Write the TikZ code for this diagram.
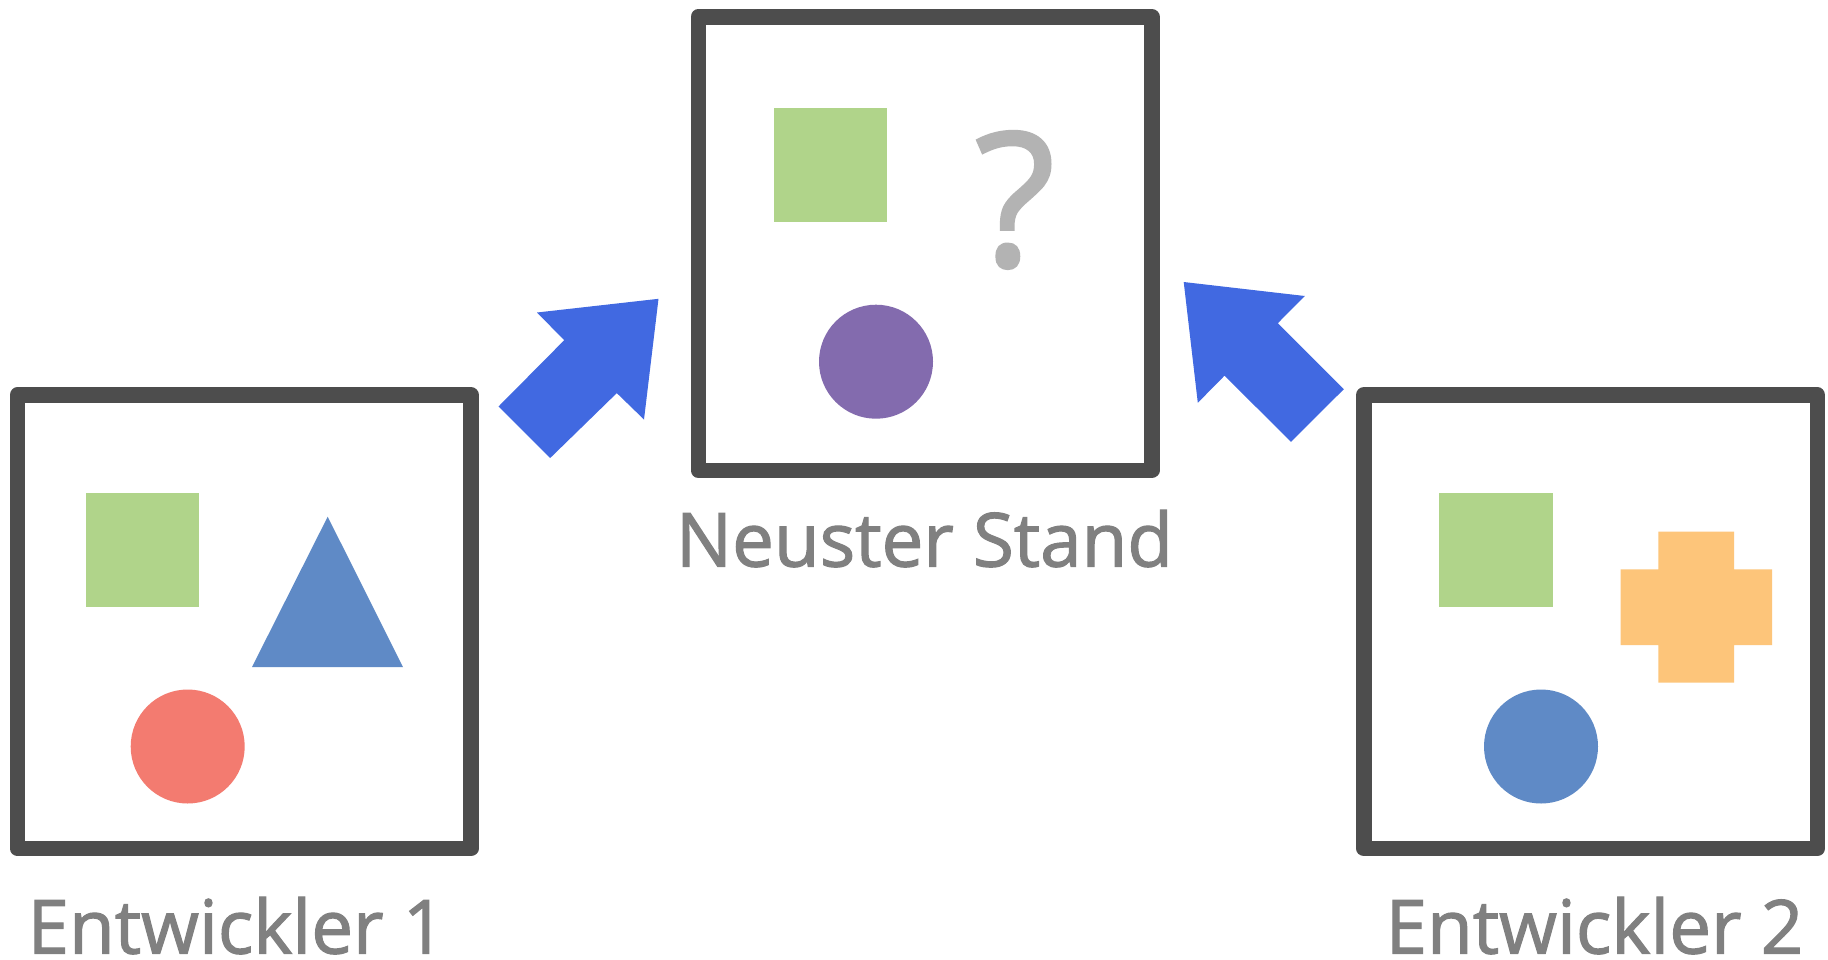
\documentclass[tikz,border=0pt]{standalone}
\usepackage{fontspec}
\setmainfont{Open Sans}
\newfontfamily\lblfont{Open Sans}[FakeBold=1.6]
\definecolor{boxgray}{HTML}{4D4D4D}
\definecolor{labelgray}{HTML}{808080}
\definecolor{qgray}{HTML}{B3B3B3}
\definecolor{sqgreen}{HTML}{B0D48A}
\definecolor{triblue}{HTML}{5F8AC6}
\definecolor{circred}{HTML}{F37B70}
\definecolor{circpurple}{HTML}{836BAE}
\definecolor{crossorange}{HTML}{FDC57A}
\definecolor{arrowblue}{HTML}{4169E1}
\begin{document}
\begin{tikzpicture}[x=1pt,y=-1pt,
  box/.style={draw=boxgray, line width=15.5pt, line join=round,
    minimum width=453.5pt, minimum height=453.5pt, inner sep=0pt, fill=white},
  lbl/.style={text=labelgray, font=\lblfont\fontsize{74.5}{90}\selectfont, inner sep=0pt, anchor=base},
  bigarrow/.style={fill=arrowblue}]
\useasboundingbox (0,0) rectangle (1828,959);
% boxes
\node[box] (dev1) at (244.25,621.75) {};
\node[box] (latest) at (925,243.5) {};
\node[box] (dev2) at (1590.5,621.75) {};
% labels
\node[lbl] (l1) at (236.5,953.5) {Entwickler 1};
\node[lbl] (l2) at (924.5,566.5) {Neuster Stand};
\node[lbl] (l3) at (1594.5,953.5) {Entwickler 2};
% developer 1 content
\fill[sqgreen] (86,493) rectangle (199,607);
\fill[triblue] (327.7,516.7) -- (403,667) -- (252,667) -- cycle;
\fill[circred] (187.7,746.5) circle[radius=57pt];
% latest content
\fill[sqgreen] (774,108) rectangle (887,221.5);
\fill[circpurple] (876,361.7) circle[radius=57pt];
\node[text=qgray, font=\lblfont\fontsize{186}{200}\selectfont, inner sep=0pt, anchor=base] (q) at (1015,266) {?};
% developer 2 content
\fill[sqgreen] (1439,493.3) rectangle (1552.7,607);
\fill[crossorange] (1658.3,531.7) -- (1734,531.7) -- (1734,569.3) -- (1772,569.3) -- (1772,645)
  -- (1734,645) -- (1734,682.7) -- (1658.3,682.7) -- (1658.3,645) -- (1620.7,645)
  -- (1620.7,569.3) -- (1658.3,569.3) -- cycle;
\fill[triblue] (1541,746.5) circle[radius=57pt];
% arrows
\fill[bigarrow] (658.5,298.8) -- (537,312.5) -- (564.2,340.2) -- (498.5,406.5) -- (550.2,458)
  -- (616.8,393.1) -- (644,419.5) -- cycle;
\fill[bigarrow] (1183.7,282) -- (1304.8,296) -- (1277.8,323.2) -- (1343.8,389.2) -- (1291,441.8)
  -- (1224.5,375.7) -- (1197.8,402.8) -- cycle;
\end{tikzpicture}
\end{document}
